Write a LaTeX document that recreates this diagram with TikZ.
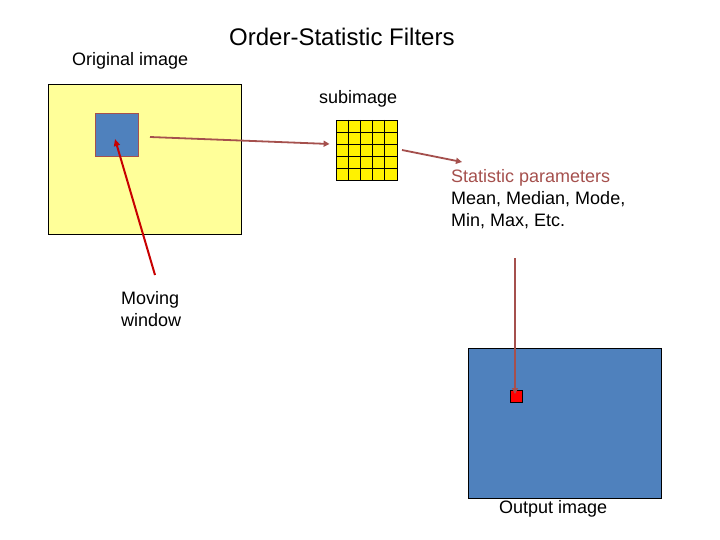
\documentclass[tikz,border=0pt]{standalone}
\usepackage{fontspec}
\setmainfont{Liberation Sans}
\usetikzlibrary{arrows.meta,calc}
\definecolor{paleyellow}{RGB}{255,255,153}
\definecolor{boxblue}{RGB}{79,129,189}
\definecolor{brownred}{RGB}{165,80,77}
\definecolor{darkred}{RGB}{200,0,0}
\tikzset{
  lbl/.style={anchor=base west, inner sep=0pt, font=\fontsize{18}{21.5}\selectfont, align=left},
  imgbox/.style={draw=black, line width=0.9pt},
  conn/.style={draw=brownred, line width=1.8pt, -{Triangle[length=6pt,width=6pt]}},
  redconn/.style={draw=darkred, line width=2pt, -{Triangle[length=7pt,width=6pt]}}
}
\begin{document}
\begin{tikzpicture}[x=1pt,y=-1pt]
\useasboundingbox (0,0) rectangle (720,540);
% titles
\node[lbl, font=\fontsize{24}{28}\selectfont] (title) at (229,46) {Order-Statistic Filters};
\node[lbl] (origlbl) at (72,66) {Original image};
\node[lbl] (sublbl) at (319,104) {subimage};
% original image
\draw[imgbox, fill=paleyellow] (48,84) rectangle (241,234);
\node[draw=brownred, line width=1.5pt, fill=boxblue, minimum width=43pt, minimum height=43pt, inner sep=0pt] (win) at (117,135) {};
% subimage grid
\node[draw=black, fill=yellow, minimum width=61pt, minimum height=60pt, inner sep=0pt, line width=0.8pt] (sub) at (366.5,150) {};
\foreach \i in {1,2,3,4} {
  \draw[line width=0.8pt] ($(336,120)+(\i*12.2,0)$) -- ++(0,60);
  \draw[line width=0.8pt] ($(336,120)+(0,\i*12)$) -- ++(61,0);
}
% statistics text
\node[lbl, text=brownred] (stathead) at (451,183) {Statistic parameters};
\node[lbl] (stats) at (451,226) {Mean, Median, Mode,\\Min, Max, Etc.};
% moving window label
\node[lbl] (movlbl) at (121,326) {Moving\\window};
% output image
\draw[imgbox, fill=boxblue] (468,348) rectangle (661,498);
\node[draw=black, fill=red, line width=0.9pt, minimum width=12pt, minimum height=12pt, inner sep=0pt] (px) at (516.5,396.5) {};
\node[lbl] (outlbl) at (499,513) {Output image};
% connector coordinates
\coordinate (a1) at (150,137);
\coordinate (a2) at (402,150);
\coordinate (a3) at (462,162);
\coordinate (a4) at (515,258);
\coordinate (r1) at (155,275);
\coordinate (r2) at (115,139);
\draw[conn] (a1) -- ([xshift=-6pt]sub.west |- 0,144);
\draw[conn] (a2) -- (a3);
\draw[conn] (a4) -- ([yshift=-4pt]px.north -| a4);
\draw[redconn] (r1) -- (r2);
\end{tikzpicture}
\end{document}
